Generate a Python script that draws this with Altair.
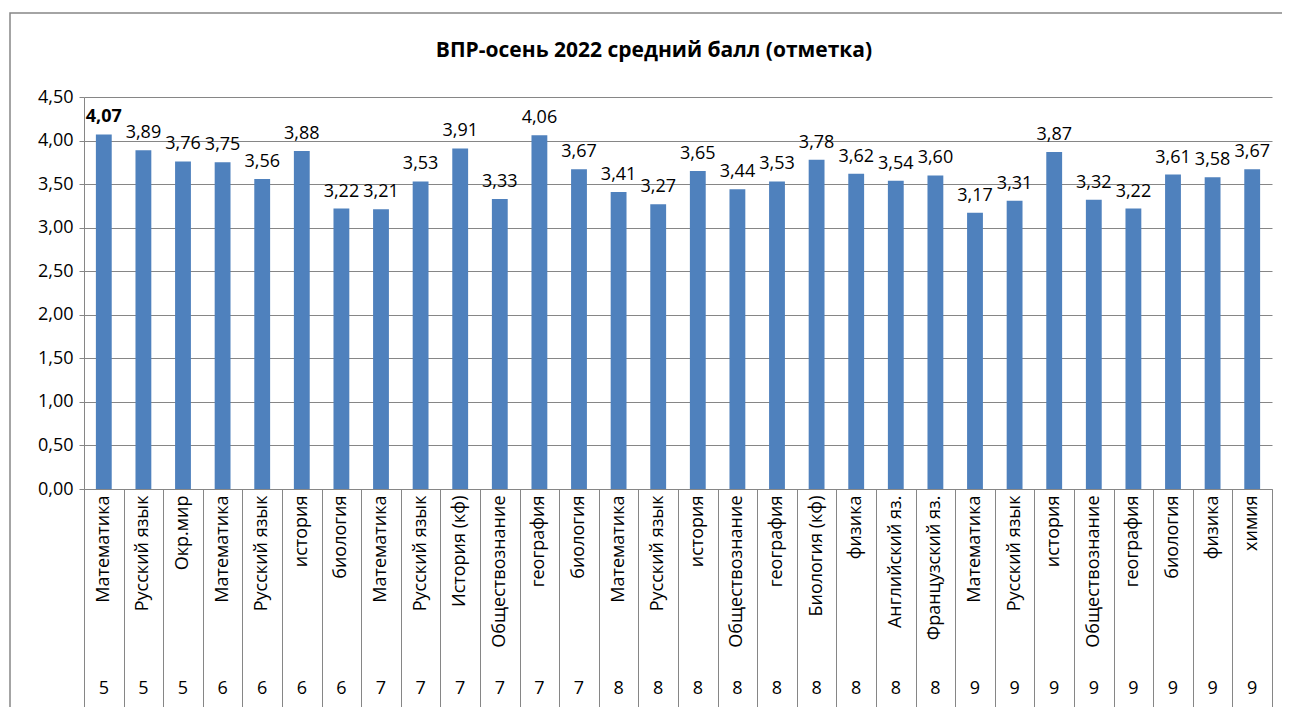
import altair as alt
import pandas as pd

subjects = ["Математика", "Русский язык", "Окр.мир",
            "Математика", "Русский язык", "история", "биология",
            "Математика", "Русский язык", "История (кф)", "Обществознание", "география", "биология",
            "Математика", "Русский язык", "история", "Обществознание", "география", "Биология (кф)",
            "физика", "Английский яз.", "Французский яз.",
            "Математика", "Русский язык", "история", "Обществознание", "география", "биология",
            "физика", "химия"]
grades = ["5", "5", "5",
          "6", "6", "6", "6",
          "7", "7", "7", "7", "7", "7",
          "8", "8", "8", "8", "8", "8", "8", "8", "8",
          "9", "9", "9", "9", "9", "9", "9", "9"]
values = [4.07, 3.89, 3.76,
          3.75, 3.56, 3.88, 3.22,
          3.21, 3.53, 3.91, 3.33, 4.06, 3.67,
          3.41, 3.27, 3.65, 3.44, 3.53, 3.78, 3.62, 3.54, 3.60,
          3.17, 3.31, 3.87, 3.32, 3.22, 3.61, 3.58, 3.67]
y_ticks = [0, 0.5, 1.0, 1.5, 2.0, 2.5, 3.0, 3.5, 4.0, 4.5]
title_text = "ВПР-осень 2022 средний балл (отметка)"

keys = [f"{g}|{s}|{i:02d}" for i, (g, s) in enumerate(zip(grades, subjects))]
df = pd.DataFrame({"key": keys, "subject": subjects, "grade": grades,
                   "value": values, "idx": list(range(len(keys)))})

FONT = "Open Sans"
GRAY = "#868686"
BAR = "#4F81BD"
FS = 18
W, H = 1188, 392

xscale = alt.Scale(domain=keys, paddingInner=0, paddingOuter=0)
yscale = alt.Scale(domain=[0, 4.5], nice=False)
yaxis = alt.Axis(values=y_ticks,
                 labelExpr="replace(format(datum.value, '.2f'), '.', ',')",
                 grid=True, gridColor=GRAY, domainColor=GRAY, tickColor=GRAY,
                 tickSize=5, labelPadding=6, labelFontSize=FS, labelFont=FONT,
                 labelColor="black", title=None)

base = alt.Chart(df)
one = pd.DataFrame({"t": [title_text]})

border = alt.Chart(one).mark_rect(
    fill=None, fillOpacity=0, stroke=GRAY, strokeWidth=1.5
).encode(x=alt.value(-74), y=alt.value(-84), x2=alt.value(2000), y2=alt.value(2000))

title = alt.Chart(one).mark_text(
    font=FONT, fontSize=21, fontWeight="bold", color="black",
    align="center", baseline="middle"
).encode(x=alt.value(W / 2 - 24), y=alt.value(-46), text="t:N")

bars = base.mark_bar(color=BAR, width=alt.RelativeBandSize(0.4)).encode(
    x=alt.X("key:N", scale=xscale, sort=keys, title=None,
            axis=alt.Axis(orient="bottom", labelExpr="split(datum.value, '|')[1]",
                          labelAngle=270, labelAlign="right", labelBaseline="middle",
                          labelPadding=6, ticks=False, domain=True, domainColor=GRAY,
                          domainWidth=1, labelFontSize=FS, labelFont=FONT,
                          labelColor="black", labelLimit=300, grid=False)),
    y=alt.Y("value:Q", scale=yscale, title=None, axis=yaxis),
)

labels = base.transform_filter("datum.idx > 0").transform_calculate(
    lab="replace(format(datum.value, '.2f'), '.', ',')"
).mark_text(baseline="bottom", dy=-8, fontSize=FS, font=FONT, color="black").encode(
    x=alt.X("key:N", scale=xscale, sort=keys, axis=None),
    y=alt.Y("value:Q", scale=yscale, title=None, axis=yaxis),
    text="lab:N",
)

label_bold = base.transform_filter("datum.idx == 0").transform_calculate(
    lab="replace(format(datum.value, '.2f'), '.', ',')"
).mark_text(baseline="bottom", dy=-8, fontSize=FS, font=FONT, fontWeight="bold",
            color="black").encode(
    x=alt.X("key:N", scale=xscale, sort=keys, axis=None),
    y=alt.Y("value:Q", scale=yscale, title=None, axis=yaxis),
    text="lab:N",
)

separators = base.mark_point(opacity=0).encode(
    x=alt.X("key:N", scale=xscale, sort=keys, title=None,
            axis=alt.Axis(orient="bottom", labels=False, ticks=True, tickBand="extent",
                          tickSize=230, tickColor=GRAY, domain=False, grid=False)),
)

grade_axis = base.mark_point(opacity=0).encode(
    x=alt.X("key:N", scale=xscale, sort=keys, title=None,
            axis=alt.Axis(orient="bottom", labelExpr="split(datum.value, '|')[0]",
                          labelAngle=0, labelAlign="center", labelBaseline="top",
                          ticks=False, domain=False, grid=False, offset=188,
                          labelPadding=2, labelFontSize=FS, labelFont=FONT,
                          labelColor="black")),
)

chart = alt.layer(border, title, bars, labels, label_bold, separators, grade_axis).resolve_axis(
    x="independent"
).properties(
    width=W, height=H,
    autosize=alt.AutoSizeParams(type="none"),
    padding={"left": 76, "top": 89, "right": 10, "bottom": 218},
).configure_view(stroke=None)

chart.save("out.html", embed_options={"renderer": "svg", "actions": False})
